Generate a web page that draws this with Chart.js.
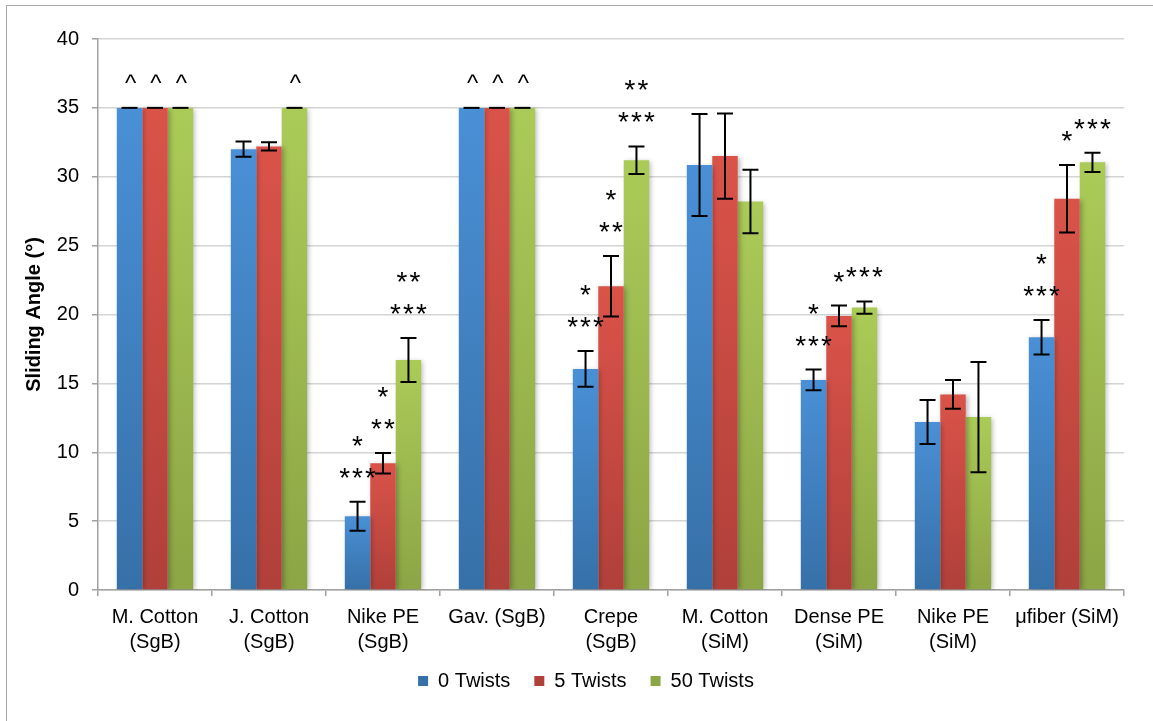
<!DOCTYPE html>
<html>
<head>
<meta charset="utf-8">
<script src="https://cdn.jsdelivr.net/npm/chart.js@4"></script>
<style>
  html, body { margin: 0; padding: 0; background: #fff; overflow: hidden; }
  #frame { position: absolute; left: 6px; top: 5px; width: 1300px; height: 900px; border: 1.5px solid #a8a8a8; }
  #wrap { position: absolute; left: 0; top: 0; width: 1153px; height: 721px; }
</style>
</head>
<body>
<div id="frame"></div>
<div id="wrap"><canvas id="slideChart" width="1153" height="721"></canvas></div>
<script>
// categories along the x axis
const categories = [
    ['M. Cotton', '(SgB)'], ['J. Cotton', '(SgB)'], ['Nike PE', '(SgB)'], 'Gav. (SgB)',
    ['Crepe', '(SgB)'], ['M. Cotton', '(SiM)'], ['Dense PE', '(SiM)'], ['Nike PE', '(SiM)'], 'μfiber (SiM)'
];
const seriesNames = ['0 Twists', '5 Twists', '50 Twists'];

// mean sliding angle (deg) and error (+/-)
const twists0 = [35, 32.0, 5.35, 35, 16.05, 30.85, 15.25, 12.2, 18.35];
const twists0Err = [0, 0.55, 1.05, 0, 1.3, 3.7, 0.75, 1.6, 1.25];
const twists5 = [35, 32.2, 9.2, 35, 22.05, 31.5, 19.9, 14.2, 28.4];
const twists5Err = [0, 0.3, 0.75, 0, 2.2, 3.1, 0.75, 1.05, 2.45];
const twists50 = [35, 35, 16.7, 35, 31.2, 28.2, 20.5, 12.55, 31.05];
const twists50Err = [0, 0, 1.6, 0, 1.0, 2.3, 0.45, 4.0, 0.7];

// significance marks above each bar, listed bottom line first
const marks0 = [['^'], [], ['***', '*'], ['^'], ['***', '*'], [], ['***', '*'], [], ['***', '*']];
const marks5 = [['^'], [], ['**', '*'], ['^'], ['**', '*'], [], ['*'], [], ['*']];
const marks50 = [['^'], ['^'], ['***', '**'], ['^'], ['***', '**'], [], ['***'], [], ['***']];

const yTicks = [0, 5, 10, 15, 20, 25, 30, 35, 40];

const seriesValues = [twists0, twists5, twists50];
const seriesErrors = [twists0Err, twists5Err, twists50Err];
const seriesMarks = [marks0, marks5, marks50];
const seriesTop = ['#4a90d6', '#da5349', '#abcb58'];
const seriesBottom = ['#3670a8', '#b0403a', '#8ca545'];
const seriesLegend = ['#3f7fc2', '#c94a42', '#9cba50'];

const FONT = "'Liberation Sans', Arial, sans-serif";

function barFill(i) {
    return function(context) {
        if (context.type !== 'data') return seriesLegend[i];
        const y = context.chart.scales.y;
        if (!y) return seriesTop[i];
        const y0 = y.getPixelForValue(context.raw);
        const y1 = y.getPixelForValue(0);
        if (!isFinite(y0) || !isFinite(y1) || y0 === y1) return seriesTop[i];
        const g = context.chart.ctx.createLinearGradient(0, y0, 0, y1);
        g.addColorStop(0, seriesTop[i]);
        g.addColorStop(1, seriesBottom[i]);
        return g;
    };
}

// nudge the legend row to where Excel put it (centred under the plot, a bit higher)
const legendNudge = {
    id: 'legendNudge',
    afterLayout(chart) {
        const lg = chart.legend;
        if (!lg) return;
        lg.left += 48;
        lg.top -= 11;
        lg.bottom -= 11;
    }
};

// soft drop shadow behind the bars, like the Excel original
const barShadow = {
    id: 'barShadow',
    beforeDatasetsDraw(chart) {
        const ctx = chart.ctx;
        ctx.save();
        ctx.shadowColor = 'rgba(0,0,0,0.28)';
        ctx.shadowBlur = 5;
        ctx.shadowOffsetX = 2;
        ctx.shadowOffsetY = 1;
    },
    afterDatasetsDraw(chart) {
        chart.ctx.restore();
    }
};

// error bars and significance marks
const errorMarks = {
    id: 'errorMarks',
    afterDatasetsDraw(chart) {
        const ctx = chart.ctx;
        const y = chart.scales.y;
        ctx.save();
        ctx.strokeStyle = '#000';
        ctx.lineWidth = 2;
        chart.data.datasets.forEach(function(ds, i) {
            const meta = chart.getDatasetMeta(i);
            meta.data.forEach(function(bar, j) {
                const v = seriesValues[i][j];
                const e = seriesErrors[i][j];
                const top = y.getPixelForValue(v + e);
                const bot = y.getPixelForValue(v - e);
                const half = 8;
                ctx.beginPath();
                ctx.moveTo(bar.x - half, top); ctx.lineTo(bar.x + half, top);
                if (e > 0) {
                    ctx.moveTo(bar.x, top); ctx.lineTo(bar.x, bot);
                    ctx.moveTo(bar.x - half, bot); ctx.lineTo(bar.x + half, bot);
                }
                ctx.stroke();

                // marks stacked above the error bar
                ctx.fillStyle = '#000';
                ctx.textAlign = 'center';
                ctx.textBaseline = 'alphabetic';
                let cy = top - 29;
                seriesMarks[i][j].forEach(function(txt) {
                    ctx.font = (txt.indexOf('^') >= 0 ? '24px ' : '28px ') + FONT;
                    ctx.letterSpacing = txt.indexOf('*') >= 0 ? '2px' : '0px';
                    const m = ctx.measureText(txt);
                    const base = cy + (m.actualBoundingBoxAscent - m.actualBoundingBoxDescent) / 2;
                    ctx.fillText(txt, bar.x + 1, base);
                    cy -= 32;
                });
            });
        });
        ctx.restore();
    }
};

const datasets = seriesNames.map(function(name, i) {
    return {
        label: name,
        data: seriesValues[i],
        backgroundColor: barFill(i),
        borderWidth: 0,
        barPercentage: 1.0,
        categoryPercentage: 0.67
    };
});

new Chart(document.getElementById('slideChart'), {
    type: 'bar',
    data: { labels: categories, datasets: datasets },
    plugins: [legendNudge, barShadow, errorMarks],
    options: {
        responsive: false,
        animation: false,
        layout: { padding: { top: 39, right: 29, left: 0, bottom: 9 } },
        plugins: {
            legend: {
                position: 'bottom',
                labels: {
                    boxWidth: 10,
                    boxHeight: 10,
                    padding: 24,
                    color: '#000',
                    font: { size: 20, family: FONT }
                }
            },
            tooltip: { enabled: false }
        },
        scales: {
            x: {
                grid: { offset: true, drawOnChartArea: false, tickLength: 6, color: '#a0a0a0', lineWidth: 1.5 },
                border: { color: '#a0a0a0', width: 1.5 },
                ticks: {
                    color: '#000',
                    padding: 9,
                    maxRotation: 0,
                    autoSkip: false,
                    font: { size: 20, family: FONT, lineHeight: '25px' }
                },
                afterFit: function(scale) { scale.height = 68; }
            },
            y: {
                min: 0,
                max: 40,
                afterBuildTicks: function(scale) { scale.ticks = yTicks.map(function(v) { return { value: v }; }); },
                ticks: { color: '#000', padding: 13, font: { size: 20, family: FONT } },
                grid: { color: '#d4d4d4', lineWidth: 1.5, tickColor: '#a0a0a0', tickLength: 6 },
                border: { color: '#a0a0a0', width: 1.5 },
                title: {
                    display: true,
                    text: 'Sliding Angle (°)',
                    color: '#000',
                    font: { size: 20, weight: 'bold', family: FONT },
                    padding: { top: 22, bottom: 0 }
                },
                afterFit: function(scale) { scale.width = 98; }
            }
        }
    }
});
</script>
</body>
</html>
